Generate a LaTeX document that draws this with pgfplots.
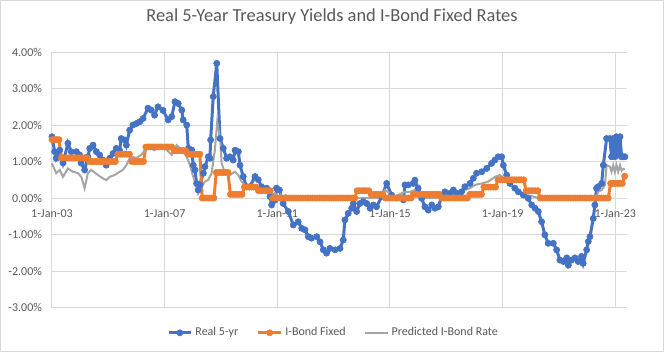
\documentclass[border=0pt]{standalone}
\usepackage{fontspec}
\setmainfont{Carlito}
\usepackage{pgfplots}
\pgfplotsset{compat=1.18}
\definecolor{cblue}{RGB}{68,114,196}
\definecolor{corange}{RGB}{237,125,49}
\definecolor{cgray}{RGB}{165,165,165}
\definecolor{ctext}{RGB}{89,89,89}
\definecolor{cgrid}{RGB}{217,217,217}
\begin{document}
\begin{tikzpicture}
\begin{axis}[
  at={(0pt,0pt)}, anchor=south west,
  width=431.25pt, height=191.6pt, scale only axis,
  xmin=0, xmax=245, ymin=-3, ymax=4,
  clip=false,
  axis line style={draw=none},
  major tick length=0pt,
  grid=major, grid style={cgrid, line width=0.75pt},
  xtick={0,48,96,144,192,240},
  xticklabels={1-Jan-03,1-Jan-07,1-Jan-11,1-Jan-15,1-Jan-19,1-Jan-23},
  ytick={-3,-2,-1,0,1,2,3,4},
  yticklabels={-3.00\%,-2.00\%,-1.00\%,0.00\%,1.00\%,2.00\%,3.00\%,4.00\%},
  tick label style={font=\fontsize{9}{11}\selectfont, text=ctext},
  xticklabel style={anchor=center, yshift=70.4pt},
  yticklabel style={xshift=-4pt},
  legend style={at={(0.49,-0.099)}, anchor=center, draw=none, legend columns=3,
    font=\fontsize{9}{11}\selectfont, text=ctext,
    /tikz/every even column/.append style={column sep=12pt}},
  legend cell align=left,
]
\addplot[cblue, line width=2.25pt, mark=*, mark size=2.3pt, mark options={solid, line width=0.5pt, fill=cblue}] coordinates {
(0,1.68)(1.15,1.27)(1.8,1.09)(3.3,1.31)(4.7,0.96)(6.8,1.50)(8.2,1.27)(10.4,1.27)(11.8,1.18)(12.4,0.96)(13.9,0.77)(15.3,1.13)(16.1,1.36)(17.5,1.45)(18.9,1.27)(20.3,1.18)(21.7,1.04)(23.1,0.90)(24.6,1.09)(26.0,1.22)(27.4,1.36)(28.8,1.31)(29.5,1.63)(31.0,1.59)(31.7,1.45)(33.1,1.86)(34.5,2.00)(35.9,2.04)(37.4,2.09)(38.8,2.18)(40.9,2.46)(42.3,2.41)(43.7,2.27)(45.2,2.50)(47.3,2.40)(49.5,2.14)(51.0,2.23)(52.4,2.64)(53.8,2.59)(55.3,2.41)(55.9,2.14)(57.4,2.00)(58.1,1.36)(59.5,1.32)(60.2,0.90)(60.9,0.77)(61.6,0.40)(62.3,0.22)(63.0,0.36)(64.5,0.68)(65.2,0.86)(66.6,1.13)(67.3,1.09)(67.6,1.59)(68.7,2.78)(70.2,3.69)(71.6,1.63)(73.0,1.36)(74.4,1.09)(75.8,1.13)(77.2,1.04)(78.0,1.31)(79.4,1.27)(80.1,0.90)(81.5,0.59)(82.9,0.31)(84.3,0.31)(86.5,0.59)(87.9,0.50)(89.3,0.31)(91.5,0.27)(92.9,0.04)(93.6,-0.19)(95.0,-0.06)(95.7,0.27)(96.9,0.22)(98.5,-0.15)(100.7,-0.37)(102.8,-0.74)(104.9,-0.65)(106.4,-0.83)(107.8,-0.87)(109.2,-1.06)(110.6,-1.10)(112.8,-1.06)(114.2,-1.20)(115.6,-1.42)(117.0,-1.51)(118.4,-1.38)(120.6,-1.42)(122.7,-1.38)(124.1,-1.15)(124.8,-0.60)(126.2,-0.42)(127.7,-0.28)(128.4,-0.15)(129.8,-0.37)(131.2,-0.15)(132.6,-0.10)(134.1,-0.15)(135.5,-0.28)(136.9,-0.19)(138.3,-0.24)(140.5,0.04)(142.6,0.40)(144.7,0.08)(146.8,0.00)(149.7,-0.05)(150.4,0.36)(151.8,0.36)(153.9,0.40)(154.6,0.49)(156.0,0.27)(157.5,-0.01)(158.9,-0.24)(160.3,-0.33)(161.8,-0.19)(163.2,-0.28)(164.6,-0.24)(166.0,0.04)(167.4,0.17)(169.5,0.13)(171.0,0.22)(172.4,0.13)(174.5,0.17)(175.9,0.31)(178.1,0.40)(179.5,0.54)(180.9,0.68)(183.1,0.72)(185.2,0.81)(187.3,0.95)(188.7,1.04)(190.1,1.13)(191.6,1.13)(192.3,0.90)(193.7,0.63)(195.1,0.40)(197.2,0.27)(198.7,0.17)(200.8,0.08)(202.9,-0.01)(204.4,-0.19)(205.8,-0.28)(207.2,-0.37)(208.6,-0.65)(210.0,-1.01)(211.4,-1.24)(213.6,-1.24)(215.0,-1.42)(216.4,-1.70)(217.9,-1.74)(219.3,-1.64)(220.0,-1.84)(221.4,-1.70)(222.8,-1.64)(224.2,-1.74)(225.6,-1.60)(226.3,-1.79)(227.8,-1.42)(228.5,-1.19)(229.2,-1.06)(230.6,-0.56)(231.3,-0.19)(232.0,0.27)(232.7,0.31)(234.2,0.40)(234.9,0.90)(236.3,1.63)(237.7,1.63)(238.4,1.13)(239.1,1.63)(239.8,1.13)(240.5,1.68)(241.2,1.18)(242.0,1.68)(242.7,1.13)(243.4,1.13)(244.1,1.13)
};
\addlegendentry{Real 5-yr}
\addplot[corange, line width=2.25pt, mark=*, mark size=2.3pt, mark options={solid, line width=0.5pt, fill=corange}] coordinates {
(0,1.6)(1,1.6)(2,1.6)(3,1.6)
(4,1.1)(5,1.1)(6,1.1)(7,1.1)(8,1.1)(9,1.1)(10,1.1)(11,1.1)(12,1.1)(13,1.1)(14,1.1)(15,1.1)
(16,1.0)(17,1.0)(18,1.0)(19,1.0)(20,1.0)(21,1.0)(22,1.0)(23,1.0)(24,1.0)(25,1.0)(26,1.0)(27,1.0)
(28,1.2)(29,1.2)(30,1.2)(31,1.2)(32,1.2)(33,1.2)
(34,1.0)(35,1.0)(36,1.0)(37,1.0)(38,1.0)(39,1.0)
(40,1.4)(41,1.4)(42,1.4)(43,1.4)(44,1.4)(45,1.4)(46,1.4)(47,1.4)(48,1.4)(49,1.4)(50,1.4)(51,1.4)
(52,1.3)(53,1.3)(54,1.3)(55,1.3)(56,1.3)(57,1.3)
(58,1.2)(59,1.2)(60,1.2)(61,1.2)(62,1.2)(63,1.2)
(64,0)(65,0)(66,0)(67,0)(68,0)(69,0)
(70,0.7)(71,0.7)(72,0.7)(73,0.7)(74,0.7)(75,0.7)
(76,0.1)(77,0.1)(78,0.1)(79,0.1)(80,0.1)(81,0.1)
(82,0.3)(83,0.3)(84,0.3)(85,0.3)(86,0.3)(87,0.3)
(88,0.2)(89,0.2)(90,0.2)(91,0.2)(92,0.2)(93,0.2)
(94,0)(95,0)(96,0)(97,0)(98,0)(99,0)(100,0)(101,0)(102,0)(103,0)(104,0)(105,0)(106,0)(107,0)(108,0)(109,0)(110,0)(111,0)
(112,0)(113,0)(114,0)(115,0)(116,0)(117,0)(118,0)(119,0)(120,0)(121,0)(122,0)(123,0)(124,0)(125,0)(126,0)(127,0)(128,0)(129,0)
(130,0.2)(131,0.2)(132,0.2)(133,0.2)(134,0.2)(135,0.2)
(136,0.1)(137,0.1)(138,0.1)(139,0.1)(140,0.1)(141,0.1)
(142,0)(143,0)(144,0)(145,0)(146,0)(147,0)(148,0)(149,0)(150,0)(151,0)(152,0)(153,0)
(154,0.1)(155,0.1)(156,0.1)(157,0.1)(158,0.1)(159,0.1)(160,0.1)(161,0.1)(162,0.1)(163,0.1)(164,0.1)(165,0.1)
(166,0)(167,0)(168,0)(169,0)(170,0)(171,0)(172,0)(173,0)(174,0)(175,0)(176,0)(177,0)
(178,0.1)(179,0.1)(180,0.1)(181,0.1)(182,0.1)(183,0.1)
(184,0.3)(185,0.3)(186,0.3)(187,0.3)(188,0.3)(189,0.3)
(190,0.5)(191,0.5)(192,0.5)(193,0.5)(194,0.5)(195,0.5)(196,0.5)(197,0.5)(198,0.5)(199,0.5)(200,0.5)(201,0.5)
(202,0.2)(203,0.2)(204,0.2)(205,0.2)(206,0.2)(207,0.2)
(208,0)(209,0)(210,0)(211,0)(212,0)(213,0)(214,0)(215,0)(216,0)(217,0)(218,0)(219,0)(220,0)(221,0)(222,0)
(223,0)(224,0)(225,0)(226,0)(227,0)(228,0)(229,0)(230,0)(231,0)(232,0)(233,0)(234,0)(235,0)(236,0)(237,0)
(238,0.4)(239,0.4)(240,0.4)(241,0.4)(242,0.4)(243,0.4)
(244,0.6)
};
\addlegendentry{I-Bond Fixed}
\addplot[cgray, line width=1.5pt, no marks] coordinates {
(0,0.95)(1.8,0.68)(3.3,0.77)(4.7,0.58)(6.8,0.81)(8.9,0.72)(11.1,0.68)(12.5,0.58)(13.9,0.27)(15.3,0.68)(16.7,0.77)(19.6,0.63)(21.7,0.54)(23.1,0.49)(24.6,0.58)(26.7,0.63)(28.8,0.72)(30.2,0.77)(31.7,0.90)(33.1,1.09)(34.5,1.13)(35.9,1.09)(38.0,1.18)(39.5,1.31)(40.9,1.40)(43.7,1.31)(45.9,1.40)(48.0,1.36)(48.9,1.32)(51.0,1.18)(53.1,1.45)(55.3,1.32)(57.4,1.13)(58.8,0.90)(60.2,0.58)(61.6,0.31)(62.3,0.13)(63.8,0.31)(65.2,0.45)(66.6,0.50)(68.0,0.68)(69.4,1.31)(70.4,2.09)(71.6,1.68)(72.3,0.95)(73.7,0.68)(75.8,0.63)(78.0,0.72)(79.4,0.63)(80.8,0.45)(82.9,0.31)(85.1,0.36)(87.2,0.22)(89.3,0.27)(91.5,0.18)(93.6,0.09)(95.0,0.13)(96.4,0.04)(97.5,0.10)(98.5,0.0)(99.5,0.08)(101,0)(139,0)(141.9,0.22)(144.0,0.13)(146.1,0.04)(150.4,0.17)(152.5,0.17)(154.6,0.22)(156.8,0.08)(158.9,0)(166.0,0)(166.7,0.04)(170.3,0.08)(173.1,0.13)(175.9,0.22)(178.1,0.27)(180.2,0.36)(183.1,0.40)(185.9,0.45)(188.7,0.58)(190.8,0.63)(192.1,0.55)(193.7,0.49)(195.8,0.36)(197.2,0.22)(199.4,0.13)(202.2,0.08)(205.1,0.04)(207.2,0)(232.0,0.04)(232.7,0.17)(234.2,0.22)(235.6,0.36)(236.3,0.90)(237.7,0.86)(238.4,0.72)(239.1,0.90)(239.8,0.72)(240.5,0.90)(241.2,0.72)(242.0,0.90)(242.7,0.75)(243.4,0.80)(244.1,0.78)
};
\addlegendentry{Predicted I-Bond Rate}
\end{axis}
\node[text=ctext, font=\fontsize{13.8}{16}\selectfont] at (210pt,217.9pt) {Real 5-Year Treasury Yields and I-Bond Fixed Rates};
\draw[cgrid, line width=0.75pt] (-38.6pt,-33pt) rectangle (458.6pt,230.25pt);
\end{tikzpicture}
\end{document}
